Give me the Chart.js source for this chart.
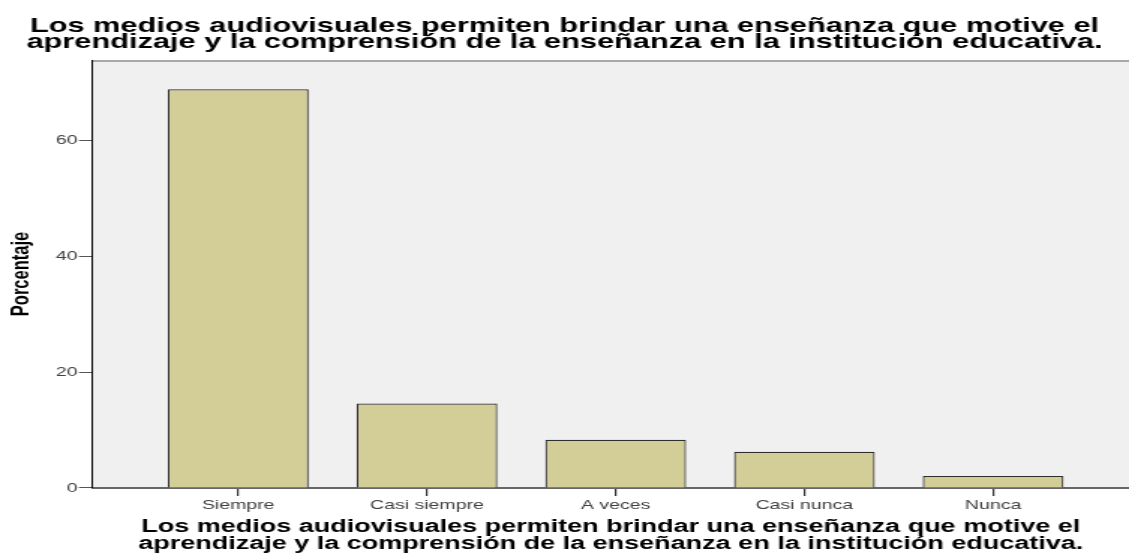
<!doctype html>
<html>

<head>
    <meta charset="utf-8">
    <title>Porcentaje</title>
    <script src="https://cdn.jsdelivr.net/npm/chart.js@4.4.1/dist/chart.umd.min.js"></script>
    <style>
        body { margin: 0; background: #fff; }
    </style>
</head>

<body>
    <!-- the SPSS export is stretched sideways, so the canvas is drawn narrow and widened -->
    <canvas id="chart-area" width="753" height="557" style="display:block;width:1129px;height:557px"></canvas>
    <script>
    var chartTitle = [
        'Los medios audiovisuales permiten brindar una enseñanza que motive el',
        'aprendizaje y la comprensión de la enseñanza en la institución educativa.'
    ];
    var categories = ['Siempre', 'Casi siempre', 'A veces', 'Casi nunca', 'Nunca'];
    var percentages = [68.75, 14.58, 8.33, 6.25, 2.08];
    var yTicks = [0, 20, 40, 60];

    // gray plot background + light top rule, like the SPSS frame
    var plotFrame = {
        id: 'plotFrame',
        beforeDraw: function(chart) {
            var ctx = chart.ctx, a = chart.chartArea;
            ctx.save();
            ctx.fillStyle = '#fff';
            ctx.fillRect(0, 0, chart.width, chart.height);
            ctx.fillStyle = '#f0f0f0';
            ctx.fillRect(a.left, a.top, a.right - a.left, a.bottom - a.top);
            ctx.strokeStyle = '#a8a8a8';
            ctx.lineWidth = 2;
            ctx.beginPath();
            ctx.moveTo(a.left, a.top + 1);
            ctx.lineTo(a.right, a.top + 1);
            ctx.stroke();
            ctx.restore();
        }
    };

    var config = {
        type: 'bar',
        data: {
            datasets: [{
                data: percentages.map(function(v, i) { return { x: i, y: v }; }),
                backgroundColor: '#d3ce97',
                borderColor: '#2e2e2e',
                borderWidth: 1.2,
                barPercentage: 0.746,
                categoryPercentage: 1
            }]
        },
        options: {
            responsive: false,
            animation: false,
            devicePixelRatio: 1,
            layout: { padding: 0 },
            plugins: {
                legend: { display: false },
                tooltip: { enabled: false },
                title: {
                    display: true,
                    text: chartTitle,
                    color: '#000',
                    font: { family: '"Liberation Sans", Arial, sans-serif', size: 20.5, weight: 'bold', lineHeight: 0.805 },
                    padding: { top: 18, bottom: 9 }
                }
            },
            scales: {
                x: {
                    type: 'linear',
                    offset: false,
                    min: -0.7725,
                    max: 4.72,
                    afterBuildTicks: function(scale) {
                        scale.ticks = categories.map(function(c, i) { return { value: i }; });
                    },
                    ticks: {
                        autoSkip: false,
                        maxRotation: 0,
                        padding: 2,
                        color: '#404040',
                        font: { family: '"Liberation Sans", Arial, sans-serif', size: 13 },
                        callback: function(v) { return categories[v]; }
                    },
                    grid: { offset: false, drawOnChartArea: false, tickLength: 8, color: '#333', lineWidth: 1.2 },
                    border: { display: true, color: '#666', width: 2 },
                    title: {
                        display: true,
                        text: chartTitle,
                        color: '#000',
                        font: { family: '"Liberation Sans", Arial, sans-serif', size: 18, weight: 'bold', lineHeight: 0.917 },
                        padding: { top: 3.4, bottom: 5 }
                    }
                },
                y: {
                    min: 0,
                    max: 73.8,
                    afterBuildTicks: function(scale) {
                        scale.ticks = yTicks.map(function(v) { return { value: v }; });
                    },
                    ticks: {
                        padding: 1,
                        color: '#404040',
                        font: { family: '"Liberation Sans", Arial, sans-serif', size: 13 }
                    },
                    grid: { drawOnChartArea: false, tickLength: 9, color: '#555', lineWidth: 1 },
                    border: { display: true, color: '#000', width: 1 },
                    title: {
                        display: true,
                        text: 'Porcentaje',
                        color: '#000',
                        font: { family: '"Liberation Sans", Arial, sans-serif', size: 16.5, weight: 'bold', lineHeight: 1.2 },
                        padding: { top: 4.8, bottom: 11.6 }
                    }
                }
            }
        },
        plugins: [plotFrame]
    };

    window.onload = function() {
        var ctx = document.getElementById('chart-area').getContext('2d');
        window.myBar = new Chart(ctx, config);
    };
    </script>
</body>

</html>
